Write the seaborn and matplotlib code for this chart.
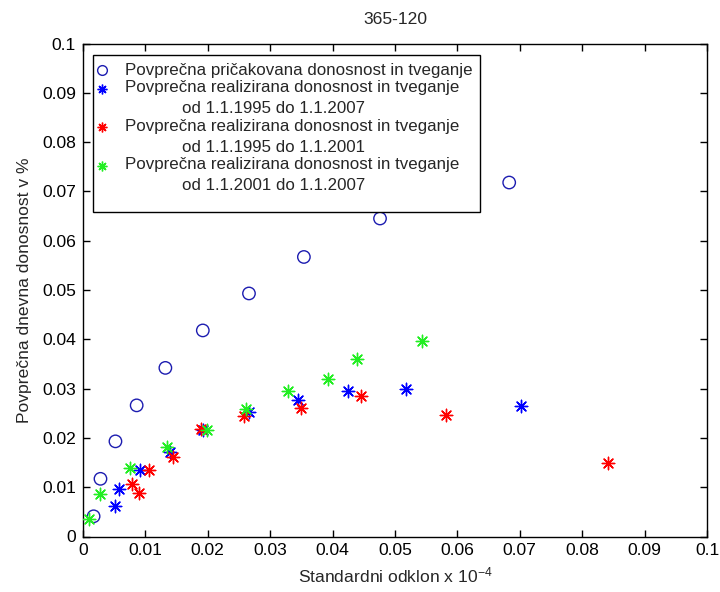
import matplotlib
matplotlib.use("Agg")
import matplotlib.pyplot as plt
import seaborn as sns
import numpy as np
from matplotlib.lines import Line2D
from matplotlib.legend_handler import HandlerLine2D

# ---- data ----
exp_x = [0.0017, 0.0028, 0.0052, 0.0086, 0.0132, 0.0192, 0.0266, 0.0354, 0.0476, 0.0683]
exp_y = [0.0041, 0.0117, 0.0193, 0.0266, 0.0342, 0.0418, 0.0493, 0.0567, 0.0645, 0.0718]

r9507_x = [0.0051, 0.0057, 0.0092, 0.0140, 0.0193, 0.0266, 0.0344, 0.0425, 0.0517, 0.0702]
r9507_y = [0.0062, 0.0097, 0.0135, 0.0172, 0.0216, 0.0252, 0.0277, 0.0296, 0.0300, 0.0264]

r9501_x = [0.0079, 0.0090, 0.0105, 0.0144, 0.0189, 0.0258, 0.0349, 0.0446, 0.0582, 0.0841]
r9501_y = [0.0107, 0.0089, 0.0135, 0.0161, 0.0218, 0.0245, 0.0261, 0.0284, 0.0246, 0.0150]

r0107_x = [0.0010, 0.0028, 0.0075, 0.0135, 0.0199, 0.0262, 0.0328, 0.0393, 0.0439, 0.0543]
r0107_y = [0.0035, 0.0086, 0.0139, 0.0181, 0.0216, 0.0259, 0.0296, 0.0320, 0.0361, 0.0396]

labels = [
    "Povprečna pričakovana donosnost in tveganje",
    "Povprečna realizirana donosnost in tveganje\n            od 1.1.1995 do 1.1.2007",
    "Povprečna realizirana donosnost in tveganje\n            od 1.1.1995 do 1.1.2001",
    "Povprečna realizirana donosnost in tveganje\n            od 1.1.2001 do 1.1.2007",
]
tick_vals = [0, 0.01, 0.02, 0.03, 0.04, 0.05, 0.06, 0.07, 0.08, 0.09, 0.1]
tick_labels = ["0", "0.01", "0.02", "0.03", "0.04", "0.05", "0.06", "0.07", "0.08", "0.09", "0.1"]
title = "365-120"
xlabel = "Standardni odklon x 10$^{-4}$"
ylabel = "Povprečna dnevna donosnost v %"

# ---- style ----
sns.set_style("white")
plt.rcParams["font.family"] = ["Liberation Sans", "DejaVu Sans"]
plt.rcParams["mathtext.fontset"] = "custom"
plt.rcParams["mathtext.rm"] = "Liberation Sans"
plt.rcParams["mathtext.default"] = "regular"
FS = 12.6
LFS = 12.2

BLUE_C = "#1c1cb0"
BLUE = "#0000ff"
RED = "#ff0000"
GREEN = "#22ee22"
STAR = (8, 2, 0)

fig = plt.figure(figsize=(7.2, 5.92), dpi=100)
ax = fig.add_axes([83 / 720, 1 - 536.5 / 592, 624 / 720, 493 / 592])

sns.scatterplot(x=exp_x, y=exp_y, ax=ax, marker="o", s=80,
                facecolor="none", edgecolor=BLUE_C, linewidth=1.0, zorder=3)
sns.scatterplot(x=r9507_x, y=r9507_y, ax=ax, marker=STAR, s=80,
                color=BLUE, linewidth=1.0, zorder=3)
sns.scatterplot(x=r9501_x, y=r9501_y, ax=ax, marker=STAR, s=80,
                color=RED, linewidth=1.0, zorder=3)
sns.scatterplot(x=r0107_x, y=r0107_y, ax=ax, marker=STAR, s=80,
                color=GREEN, linewidth=1.0, zorder=3)

ax.set_xlim(0, 0.1)
ax.set_ylim(0, 0.1)
ax.set_xticks(tick_vals)
ax.set_xticklabels(tick_labels, fontsize=FS)
ax.set_yticks(tick_vals)
ax.set_yticklabels(tick_labels, fontsize=FS)
ax.tick_params(direction="in", length=5, width=1, top=True, right=True,
               bottom=True, left=True, colors="black", pad=5)
for sp in ax.spines.values():
    sp.set_visible(True)
    sp.set_color("black")
    sp.set_linewidth(1.0)

ax.set_title(title, fontsize=FS, pad=14)
ax.set_xlabel(xlabel, fontsize=FS, labelpad=5)
ax.set_ylabel(ylabel, fontsize=FS, labelpad=7)


class FirstLineHandler(HandlerLine2D):
    def __init__(self, shift=0.0, **kw):
        super().__init__(**kw)
        self.shift = shift

    def create_artists(self, legend, orig_handle, xdescent, ydescent,
                       width, height, fontsize, trans):
        arts = super().create_artists(legend, orig_handle, xdescent, ydescent,
                                      width, height, fontsize, trans)
        for a in arts:
            a.set_ydata(np.asarray(a.get_ydata()) + self.shift)
        return arts


handles = [
    Line2D([], [], marker="o", linestyle="none", markerfacecolor="none",
           markeredgecolor=BLUE_C, markersize=7, markeredgewidth=1.0),
    Line2D([], [], marker=STAR, linestyle="none", color=BLUE,
           markersize=7, markeredgewidth=1.0),
    Line2D([], [], marker=STAR, linestyle="none", color=RED,
           markersize=7, markeredgewidth=1.0),
    Line2D([], [], marker=STAR, linestyle="none", color=GREEN,
           markersize=7, markeredgewidth=1.0),
]
# invisible spacer row that reproduces the extra bottom padding of the box
spacer = Line2D([], [], linestyle="none", marker=None)
hmap = {handles[0]: FirstLineHandler(0.0), spacer: FirstLineHandler(0.0)}
for h in handles[1:]:
    hmap[h] = FirstLineHandler(8.0)

leg = ax.legend(handles + [spacer], labels + [" "], loc="upper left",
                bbox_to_anchor=(10 / 624, 1 - 11.5 / 493), borderaxespad=0,
                fontsize=LFS, frameon=True, fancybox=False, framealpha=1,
                edgecolor="black", borderpad=0.45, handlelength=0.12,
                handleheight=0.1, handletextpad=1.3, labelspacing=0.15,
                handler_map=hmap)
leg.get_frame().set_linewidth(1.0)
texts = leg.get_texts()
for t in texts[:4]:
    t.set_linespacing(1.5)
texts[4].set_fontsize(0.8)

fig.savefig("out.png", dpi=100, facecolor="white")
